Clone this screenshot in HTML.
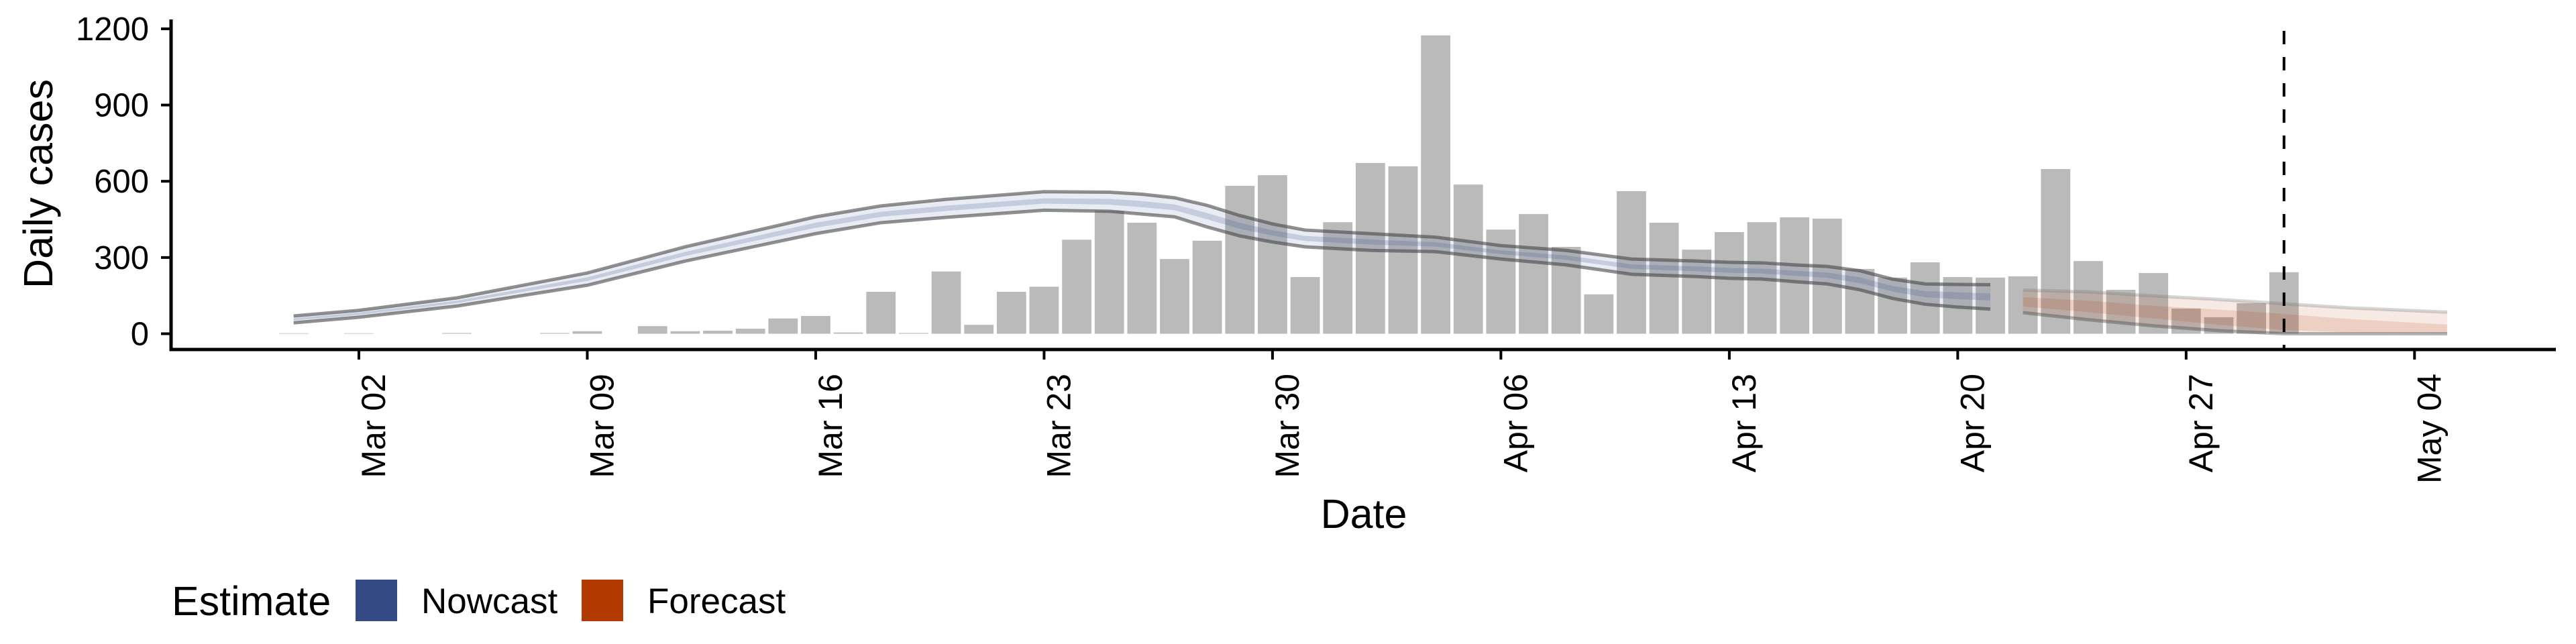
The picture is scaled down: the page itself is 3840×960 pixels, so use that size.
<!DOCTYPE html>
<html><head><meta charset="utf-8"><style>
html,body{margin:0;padding:0;background:#fff;}
svg{display:block;font-family:"Liberation Sans",sans-serif;}
</style></head><body>
<svg id="chart" width="3840" height="960" viewBox="0 0 3840 960" xmlns="http://www.w3.org/2000/svg">
<g id="bars"></g>
<g id="ribbons"></g>
<g id="axes"></g>
<text x="0" y="0" font-size="61" text-anchor="middle" transform="translate(78,274) rotate(-90)">Daily cases</text>
<text x="2033" y="787" font-size="61" text-anchor="middle">Date</text>
<g>
<text x="256" y="917" font-size="61">Estimate</text>
<rect x="530" y="864" width="62" height="62" fill="#354b85"/>
<text x="628" y="914" font-size="53">Nowcast</text>
<rect x="867" y="864" width="62" height="62" fill="#b33b02"/>
<text x="965" y="914" font-size="53">Forecast</text>
</g>
</svg>
<script>
// day offsets from Feb 29 2020
const cases = [2,0,2,0,0,3,0,0,3,10,0,30,10,12,20,60,70,5,165,3,245,35,165,185,370,484,437,294,366,582,624,223,439,672,659,1174,587,410,471,342,155,561,437,331,400,439,458,453,255,221,281,223,221,226,648,286,173,239,99,65,120,242];
const nowDays = [0,2,5,9,12,16,18,20,23,25,26,27,28,29,30,31,33,35,37,39,41,43,44,45,46,47,48,49,50,51,52];
const nowUp90 = [70,92,141,239,342,460,503,529,559,557,549,535,505,465,432,408,394,380,347,328,294,286,281,279,271,265,248,215,196,194,193];
const nowLo90 = [43,65,109,191,286,394,437,458,486,482,471,460,420,385,361,342,328,323,294,271,234,225,218,215,205,196,173,139,116,105,97];
const nowUp50 = [61,83,130,222,322,437,480,504,533,531,522,509,475,437,407,385,371,360,328,308,273,265,259,256,248,241,222,188,168,163,159];
const nowLo50 = [52,74,120,208,306,417,460,483,512,508,498,486,450,413,386,365,351,343,313,291,255,246,240,237,228,220,199,166,144,136,131];
const fcDays = [53,55,57,59,61,63,66];
const fcUp90 = [172,165,149,135,118,102,85];
const fcLo90 = [83,55,31,12,0,0,0];
const fcUp50 = [144,130,110,95,78,58,36];
const fcLo50 = [107,85,60,35,15,5,2];
const yTicks = [0,300,600,900,1200];
const xTickDays = [2,9,16,23,30,37,44,51,58,65];
const xTickLabels = ["Mar 02","Mar 09","Mar 16","Mar 23","Mar 30","Apr 06","Apr 13","Apr 20","Apr 27","May 04"];
const cutoffDay = 61;

const NS="http://www.w3.org/2000/svg";
const X0=437.7, DX=48.64, Y0=497.5, KY=0.3788;
function xs(d){return X0+d*DX;}
function ys(v){return Y0-v*KY;}
function mk(tag,parent){const e=document.createElementNS(NS,tag);parent.appendChild(e);return e;}

const gb=document.getElementById('bars');
cases.forEach((v,i)=>{
  const r=mk('rect',gb);
  
  
  const w=DX*0.9;
  r.setAttribute('x',xs(i)-w/2);r.setAttribute('y',ys(v));
  r.setAttribute('width',w);r.setAttribute('height',Math.max(0,Y0-ys(v)));
  r.setAttribute('fill','#bababa');
});

const gr=document.getElementById('ribbons');
function band(days,up,lo,fill,name){
  let d='M';
  days.forEach((t,i)=>{d+=(i?'L':'')+xs(t)+','+ys(up[i]);});
  for(let i=days.length-1;i>=0;i--) d+='L'+xs(days[i])+','+ys(lo[i]);
  d+='Z';
  const p=mk('path',gr);
  
  
  p.setAttribute('d',d);p.setAttribute('fill',fill);
}
function line(days,vals,stroke,name){
  const p=mk('polyline',gr);
  
  
  p.setAttribute('points',days.map((t,i)=>xs(t)+','+ys(vals[i])).join(' '));
  p.setAttribute('fill','none');p.setAttribute('stroke',stroke);p.setAttribute('stroke-width','5');
}
band(nowDays,nowUp90,nowLo90,'rgba(53,78,139,0.11)','nowcast-band-90');
band(nowDays,nowUp50,nowLo50,'rgba(53,78,139,0.2)','nowcast-band-50');
line(nowDays,nowUp90,'rgba(70,70,70,0.6)','nowcast-upper-line');
line(nowDays,nowLo90,'rgba(70,70,70,0.6)','nowcast-lower-line');
band(fcDays,fcUp90,fcLo90,'rgba(179,59,2,0.11)','forecast-band-90');
band(fcDays,fcUp50,fcLo50,'rgba(179,59,2,0.14)','forecast-band-50');
line(fcDays,fcUp90,'rgba(120,120,120,0.3)','forecast-upper-line');
line(fcDays,fcLo90,'rgba(70,70,70,0.4)','forecast-lower-line');

const ga=document.getElementById('axes');
const cl=mk('line',ga);


cl.setAttribute('x1',xs(cutoffDay));cl.setAttribute('x2',xs(cutoffDay));
cl.setAttribute('y1',46);cl.setAttribute('y2',519);
cl.setAttribute('stroke','#000');cl.setAttribute('stroke-width','4');cl.setAttribute('stroke-dasharray','20 19');

const ya=mk('line',ga);


ya.setAttribute('x1',255);ya.setAttribute('x2',255);ya.setAttribute('y1',29);ya.setAttribute('y2',523);
ya.setAttribute('stroke','#000');ya.setAttribute('stroke-width','5');
const xa=mk('line',ga);


xa.setAttribute('x1',252.5);xa.setAttribute('x2',3810);xa.setAttribute('y1',521);xa.setAttribute('y2',521);
xa.setAttribute('stroke','#000');xa.setAttribute('stroke-width','5');

yTicks.forEach(v=>{
  const t=mk('line',ga);
  
  
  t.setAttribute('x1',240);t.setAttribute('x2',255);t.setAttribute('y1',ys(v));t.setAttribute('y2',ys(v));
  t.setAttribute('stroke','#000');t.setAttribute('stroke-width','4');
  const l=mk('text',ga);
  
  
  l.setAttribute('x',222);l.setAttribute('y',ys(v)+17);
  l.setAttribute('font-size','49');l.setAttribute('text-anchor','end');
  l.textContent=v;
});
xTickDays.forEach((d,i)=>{
  const t=mk('line',ga);
  
  
  t.setAttribute('x1',xs(d));t.setAttribute('x2',xs(d));t.setAttribute('y1',521);t.setAttribute('y2',536);
  t.setAttribute('stroke','#000');t.setAttribute('stroke-width','4');
  const l=mk('text',ga);
  
  
  l.setAttribute('font-size','50');l.setAttribute('text-anchor','end');
  l.setAttribute('transform','translate('+(xs(d)+39)+',557) rotate(-90)');
  l.textContent=xTickLabels[i];
});
</script>
</body></html>
